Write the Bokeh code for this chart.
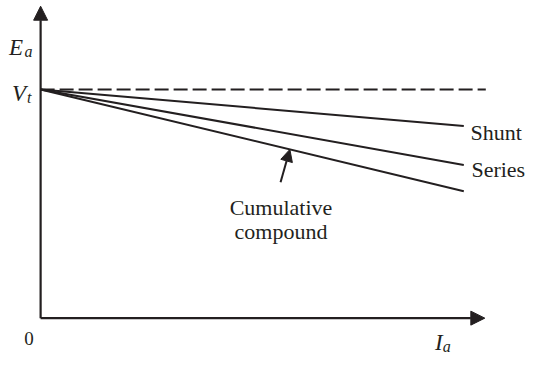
from bokeh.plotting import figure
from bokeh.models import Range1d, Arrow, NormalHead
from bokeh.core.properties import value
from bokeh.embed import file_html
from bokeh.resources import INLINE

# ---- data (normalised: Vt = 1, Ia range 0..1) ----
Vt = 1.0
Ia = [0.0, 1.0]
shunt = [1.0, 0.84]
series = [1.0, 0.67]
compound = [1.0, 0.555]
dashed_x = [0.0, 1.052]
series_names = ["Shunt", "Series"]
annot_lines = ["Cumulative", "compound"]

INK = "#231f20"
FONT = "Liberation Serif"

p = figure(width=531, height=354, output_backend="svg", toolbar_location=None,
           x_range=Range1d(-0.0948, 1.1600), y_range=Range1d(-0.159, 1.389),
           min_border=0)
p.axis.visible = False
p.grid.visible = False
p.outline_line_color = None
p.background_fill_color = "white"
p.border_fill_color = "white"

# axes with arrow heads
p.add_layout(Arrow(x_start=0, y_start=0, x_end=1.0497, y_end=0,
                   line_width=2.2, line_color=INK,
                   end=NormalHead(size=14, fill_color=INK, line_color=INK, line_width=1)))
p.add_layout(Arrow(x_start=0, y_start=0, x_end=0, y_end=1.364,
                   line_width=2.2, line_color=INK,
                   end=NormalHead(size=14, fill_color=INK, line_color=INK, line_width=1)))

# Vt dashed line
p.line(dashed_x, [Vt, Vt], line_color=INK, line_width=2, line_dash="14 5")

# characteristic lines
for ys in (shunt, series, compound):
    p.line(Ia, ys, line_color=INK, line_width=2)

# labels at line ends
p.text(x=[1.016, 1.018], y=[shunt[1] - 0.028, series[1] - 0.021], text=series_names,
       text_font=value(FONT), text_font_size="22px", text_color=INK,
       text_align="left", text_baseline="alphabetic")

# Cumulative compound annotation
p.text(x=[0.568, 0.568], y=[0.485, 0.381], text=annot_lines,
       text_font=value(FONT), text_font_size="22px", text_color=INK,
       text_align="center", text_baseline="alphabetic")
tip_x = 0.589
tip_y = compound[0] + (compound[1] - compound[0]) * tip_x
p.add_layout(Arrow(x_start=0.567, y_start=0.594, x_end=tip_x, y_end=tip_y,
                   line_width=2, line_color=INK,
                   end=NormalHead(size=12, fill_color=INK, line_color=INK, line_width=1)))

# axis labels
def lab(x, y, t, size, style="italic"):
    p.text(x=[x], y=[y], text=[t], text_font=value(FONT), text_font_size=size,
           text_font_style=style, text_color=INK, text_align="left",
           text_baseline="alphabetic")

lab(-0.0745, 1.184, "E", "23px")
lab(-0.0380, 1.168, "a", "16px")
lab(-0.0677, 0.983, "V", "23px")
lab(-0.0320, 0.966, "t", "16px")
lab(-0.0384, -0.0879, "0", "19px", "normal")
lab(0.932, -0.1046, "I", "23px")
lab(0.950, -0.1235, "a", "16px")

open("out.html", "w").write(file_html(p, INLINE))
